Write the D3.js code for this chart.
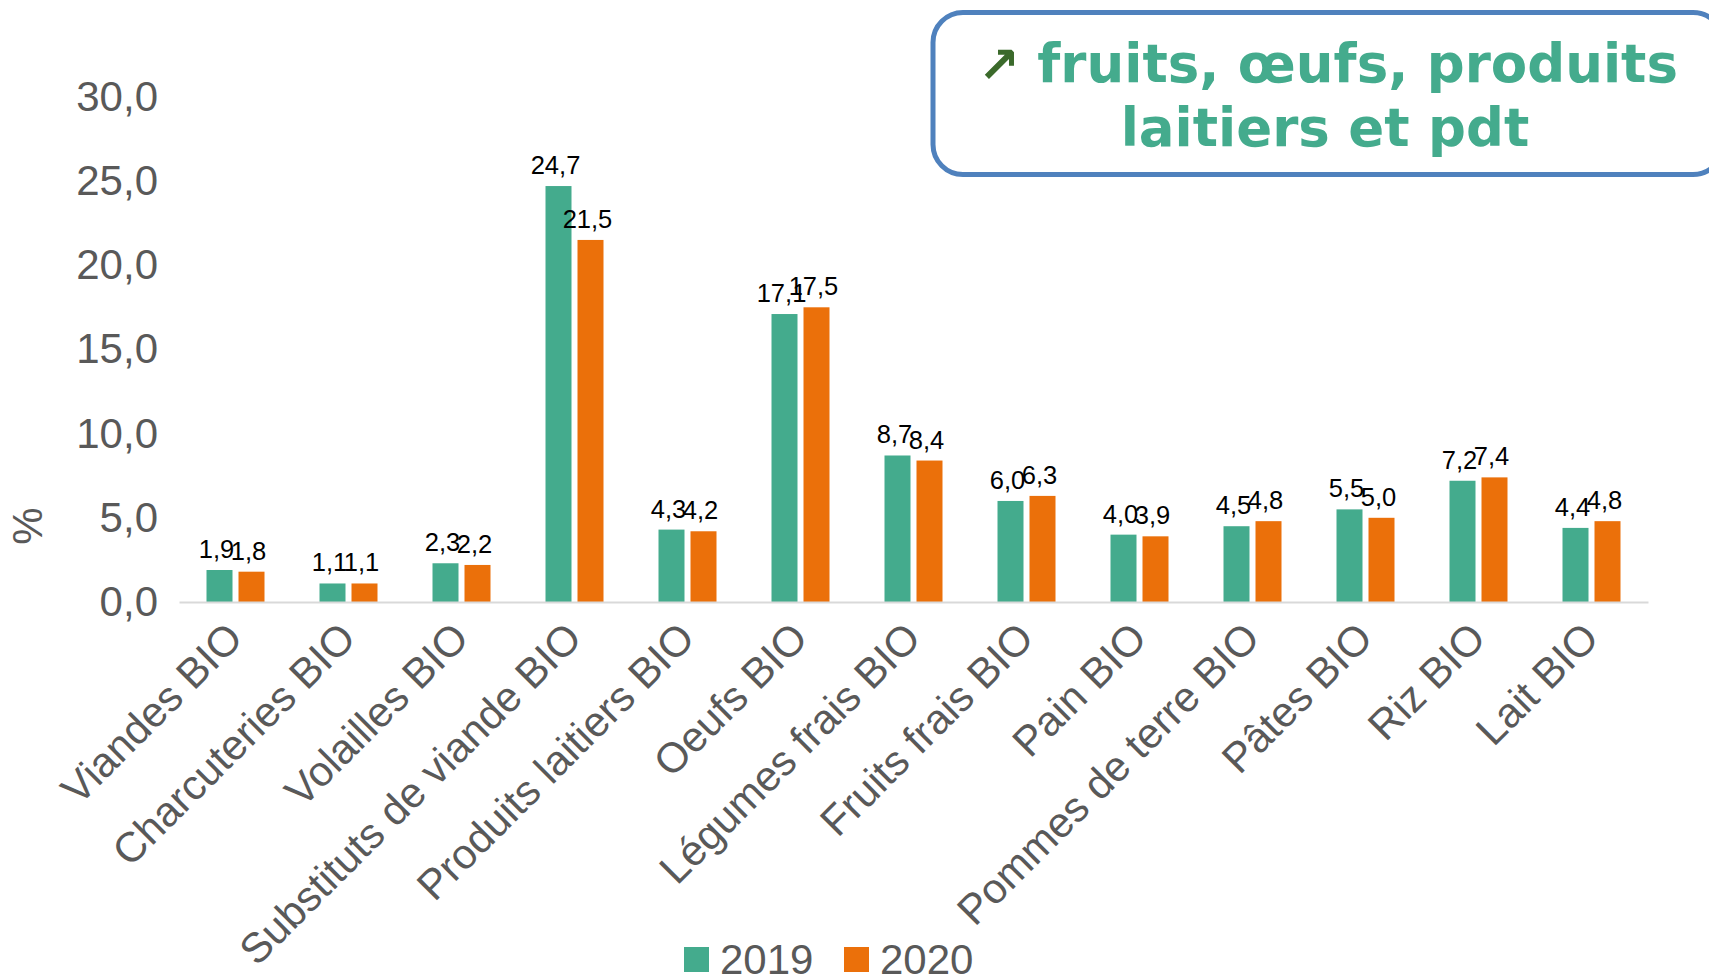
<!DOCTYPE html>
<html>
<head>
<meta charset="utf-8">
<script src="https://cdn.jsdelivr.net/npm/d3@7"></script>
<style>
  html, body { margin: 0; padding: 0; background: #fff; }
  svg { display: block; }
</style>
</head>
<body>
<svg id="chart" width="1709" height="976"></svg>
<script>
const categories = ["Viandes BIO", "Charcuteries BIO", "Volailles BIO", "Substituts de viande BIO",
  "Produits laitiers BIO", "Oeufs BIO", "Légumes frais BIO", "Fruits frais BIO", "Pain BIO",
  "Pommes de terre BIO", "Pâtes BIO", "Riz BIO", "Lait BIO"];
const seriesNames = ["2019", "2020"];
const values2019 = [1.9, 1.1, 2.3, 24.7, 4.3, 17.1, 8.7, 6.0, 4.0, 4.5, 5.5, 7.2, 4.4];
const values2020 = [1.8, 1.1, 2.2, 21.5, 4.2, 17.5, 8.4, 6.3, 3.9, 4.8, 5.0, 7.4, 4.8];
const yTicks = [0, 5, 10, 15, 20, 25, 30];
const yTitle = "%";
const annotationLine1 = "fruits, œufs, produits";
const annotationLine2 = "laitiers et pdt";
const annotationArrow = "↗";

const colors = ["#44ab8d", "#eb700a"];
const textGray = "#595959";

const fr = d3.formatLocale({decimal: ",", thousands: " ", grouping: [3], currency: ["", " €"]});
const fmt = fr.format(".1f");

const svg = d3.select("#chart");
const plot = {left: 179, right: 1648, top: 96.8, bottom: 602};

const x0 = d3.scaleBand().domain(categories).range([plot.left, plot.right]).paddingInner(0).paddingOuter(0);
const x1 = d3.scaleBand().domain(seriesNames).range([0, 58]).paddingInner(0.1875).paddingOuter(0);
const y = d3.scaleLinear().domain([0, 30]).range([plot.bottom, plot.top]);

const data = categories.map((c, i) => ({cat: c, vals: [
  {s: seriesNames[0], v: values2019[i], k: 0},
  {s: seriesNames[1], v: values2020[i], k: 1}
]}));

// Y axis
const yAxis = d3.axisLeft(y).tickValues(yTicks).tickSize(0).tickPadding(21).tickFormat(fmt);
const gy = svg.append("g").attr("transform", `translate(${plot.left},0)`).call(yAxis);
gy.select(".domain").remove();
gy.selectAll("text").attr("font-family", "Liberation Sans, Arial, sans-serif")
  .attr("font-size", 42).attr("fill", textGray);

// Y title
svg.append("text")
  .attr("transform", "translate(27,526) rotate(-90)")
  .attr("text-anchor", "middle").attr("dy", "0.35em")
  .attr("font-family", "Liberation Sans, Arial, sans-serif").attr("font-size", 42)
  .attr("fill", textGray).text(yTitle);

// Bars
const groups = svg.append("g").selectAll("g").data(data).join("g")
  .attr("transform", d => `translate(${x0(d.cat) + x0.bandwidth() / 2 - 29},0)`);
groups.selectAll("rect").data(d => d.vals).join("rect")
  .attr("x", d => x1(d.s)).attr("width", x1.bandwidth())
  .attr("y", d => y(d.v)).attr("height", d => y(0) - y(d.v))
  .attr("fill", d => colors[d.k]);
groups.selectAll("text").data(d => d.vals).join("text")
  .attr("x", d => x1(d.s) + x1.bandwidth() / 2 - 3)
  .attr("y", d => y(d.v) - 12)
  .attr("text-anchor", "middle")
  .attr("font-family", "Liberation Sans, Arial, sans-serif").attr("font-size", 25.5)
  .attr("fill", "#000").text(d => fmt(d.v));

// X axis line
const xAxis = d3.axisBottom(x0).tickSize(0).tickPadding(0);
const gx = svg.append("g").attr("transform", `translate(0,${plot.bottom})`).call(xAxis);
gx.select(".domain").attr("stroke", "#d9d9d9").attr("stroke-width", 2);
gx.selectAll(".tick text")
  .attr("transform", "translate(-1,28) rotate(-45)")
  .attr("text-anchor", "end").attr("dy", "0.35em").attr("y", 0)
  .attr("font-family", "Liberation Sans, Arial, sans-serif").attr("font-size", 42)
  .attr("fill", textGray);

// Legend
const legend = svg.append("g");
const legendX = [684, 844];
seriesNames.forEach((s, i) => {
  legend.append("rect").attr("x", legendX[i]).attr("y", 947).attr("width", 25).attr("height", 25).attr("fill", colors[i]);
  legend.append("text").attr("x", legendX[i] + 36).attr("y", 974)
    .attr("font-family", "Liberation Sans, Arial, sans-serif").attr("font-size", 42)
    .attr("fill", textGray).text(s);
});

// Annotation box
svg.append("rect").attr("x", 933).attr("y", 12.5).attr("width", 790).attr("height", 162)
  .attr("rx", 30).attr("ry", 30).attr("fill", "#fff").attr("stroke", "#4f81bd").attr("stroke-width", 5);
const ann = svg.append("text").attr("text-anchor", "middle")
  .attr("font-family", "DejaVu Sans, Verdana, sans-serif").attr("font-weight", "bold")
  .attr("font-size", 53).attr("fill", "#44ab8d");
const l1 = ann.append("tspan").attr("x", 1328).attr("y", 82);
l1.append("tspan").attr("fill", "#3b6a2b").attr("font-size", 50).text(annotationArrow + " ");
l1.append("tspan").text(annotationLine1);
ann.append("tspan").attr("x", 1325).attr("y", 146).text(annotationLine2);
</script>
</body>
</html>
